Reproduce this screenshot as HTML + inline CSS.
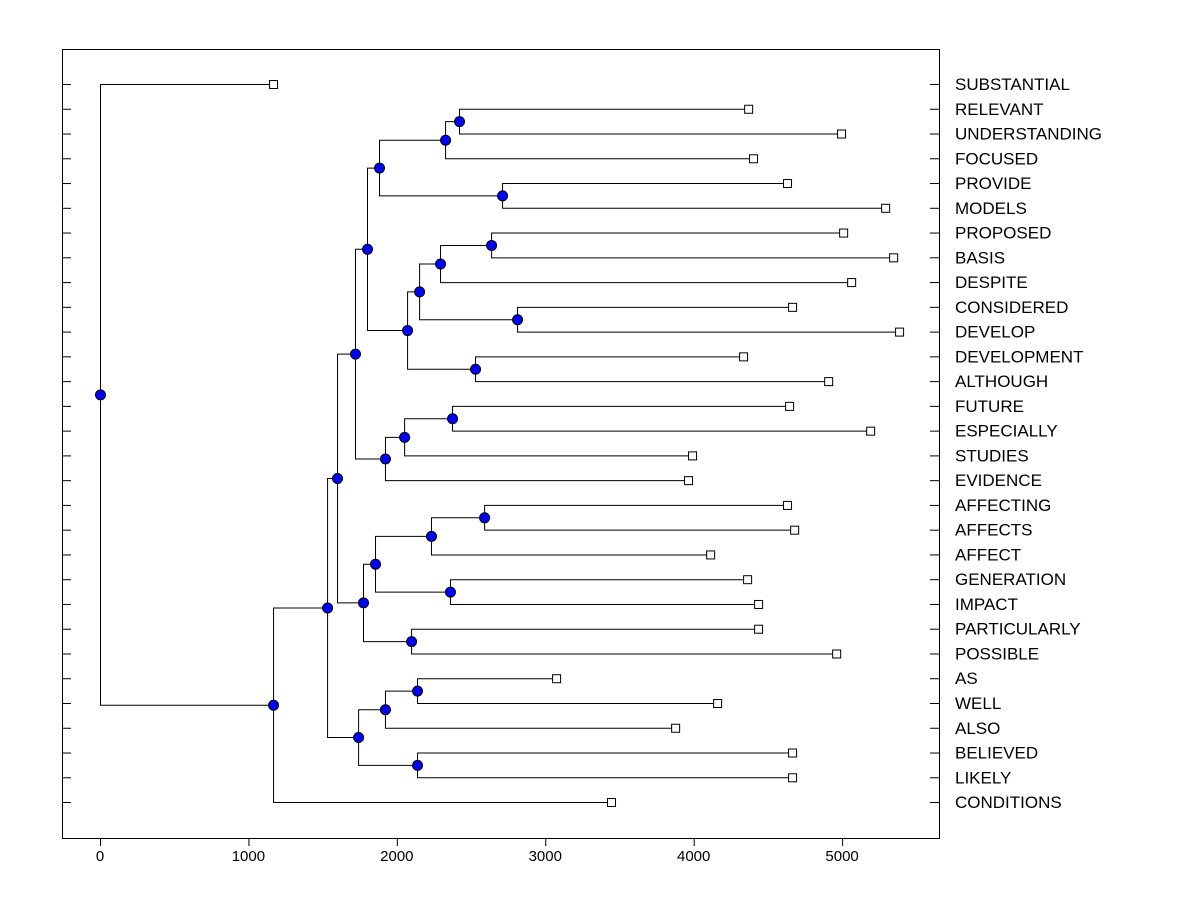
<!DOCTYPE html>
<html><head><meta charset="utf-8"><style>
body{margin:0;background:#fff;}
svg{display:block;font-family:"Liberation Sans",Arial,sans-serif;}
</style></head><body>
<svg id="chart" width="1200" height="900">
<rect x="62.5" y="49.5" width="877" height="789" fill="none" stroke="#000"/>
<g id="ticks"></g>
<g id="lines"></g>
<g id="marks"></g>
<g id="labels"></g>
</svg>
<script>
const leaves=["SUBSTANTIAL","RELEVANT","UNDERSTANDING","FOCUSED","PROVIDE","MODELS","PROPOSED","BASIS","DESPITE","CONSIDERED","DEVELOP","DEVELOPMENT","ALTHOUGH","FUTURE","ESPECIALLY","STUDIES","EVIDENCE","AFFECTING","AFFECTS","AFFECT","GENERATION","IMPACT","PARTICULARLY","POSSIBLE","AS","WELL","ALSO","BELIEVED","LIKELY","CONDITIONS"];
const leafValues=[1166,4367,4993,4400,4629,5290,5007,5344,5061,4663,5384,4333,4906,4643,5189,3989,3962,4629,4677,4111,4360,4434,4434,4960,3073,4158,3875,4663,4663,3443];
const merges=[
["RELEVANT","UNDERSTANDING",2419],
["m0","FOCUSED",2325],
["PROVIDE","MODELS",2709],
["m1","m2",1880],
["PROPOSED","BASIS",2635],
["m4","DESPITE",2291],
["CONSIDERED","DEVELOP",2810],
["m5","m6",2150],
["DEVELOPMENT","ALTHOUGH",2527],
["m7","m8",2069],
["m3","m9",1799],
["FUTURE","ESPECIALLY",2372],
["m11","STUDIES",2049],
["m12","EVIDENCE",1920],
["m10","m13",1718],
["AFFECTING","AFFECTS",2588],
["m15","AFFECT",2230],
["GENERATION","IMPACT",2358],
["m16","m17",1853],
["PARTICULARLY","POSSIBLE",2096],
["m18","m19",1772],
["m14","m20",1597],
["AS","WELL",2136],
["m22","ALSO",1920],
["BELIEVED","LIKELY",2136],
["m23","m24",1739],
["m21","m25",1530],
["m26","CONDITIONS",1166],
["SUBSTANTIAL","m27",0]
];
const xTicks=[0,1000,2000,3000,4000,5000];
const X=v=>100+v*0.14842;
const Y=i=>84+i*24.76;
const NS="http://www.w3.org/2000/svg";
function mk(t,a,p){const e=document.createElementNS(NS,t);for(const k in a)e.setAttribute(k,a[k]);document.getElementById(p).appendChild(e);return e;}
leaves.forEach((n,i)=>{
 const t1=mk("line",{x1:62,x2:71,y1:Y(i)+.5,y2:Y(i)+.5,stroke:"#000"},"ticks");
 
 
 const t2=mk("line",{x1:930,x2:939,y1:Y(i)+.5,y2:Y(i)+.5,stroke:"#000"},"ticks");
 
 
 const l=mk("text",{x:955,y:Y(i)+6,"font-size":17,fill:"#000"},"labels");
 l.textContent=n;
 
 
});
xTicks.forEach(v=>{
 const t=mk("line",{x1:X(v)+.5,x2:X(v)+.5,y1:838,y2:846,stroke:"#000"},"ticks");
 
 
 const l=mk("text",{x:X(v),y:861,"font-size":15,"text-anchor":"middle"},"labels");
 l.textContent=v;
 
 
});
const pos={};
leaves.forEach((n,i)=>pos[n]={x:X(leafValues[i]),y:Y(i),leaf:true});
const nodes=[];
merges.forEach((m,k)=>{
 const a=pos[m[0]],b=pos[m[1]],x=X(m[2]),y=(a.y+b.y)/2;
 const p=mk("path",{d:`M${a.x} ${a.y+.5}H${x+.5}V${b.y+.5}H${b.x}`,fill:"none",stroke:"#000"},"lines");
 
 
 pos["m"+k]={x:x,y:y};
 nodes.push([x,y]);
});
leaves.forEach((n,i)=>{
 const r=mk("rect",{x:pos[n].x-3.5,y:Y(i)-3.5,width:8,height:8,fill:"#fff",stroke:"#000"},"marks");
 
 
});
nodes.forEach(([x,y])=>{
 const c=mk("circle",{cx:x+.5,cy:y+.5,r:5,fill:"#0000ff",stroke:"#000"},"marks");
 
 
});
</script>
</body></html>
